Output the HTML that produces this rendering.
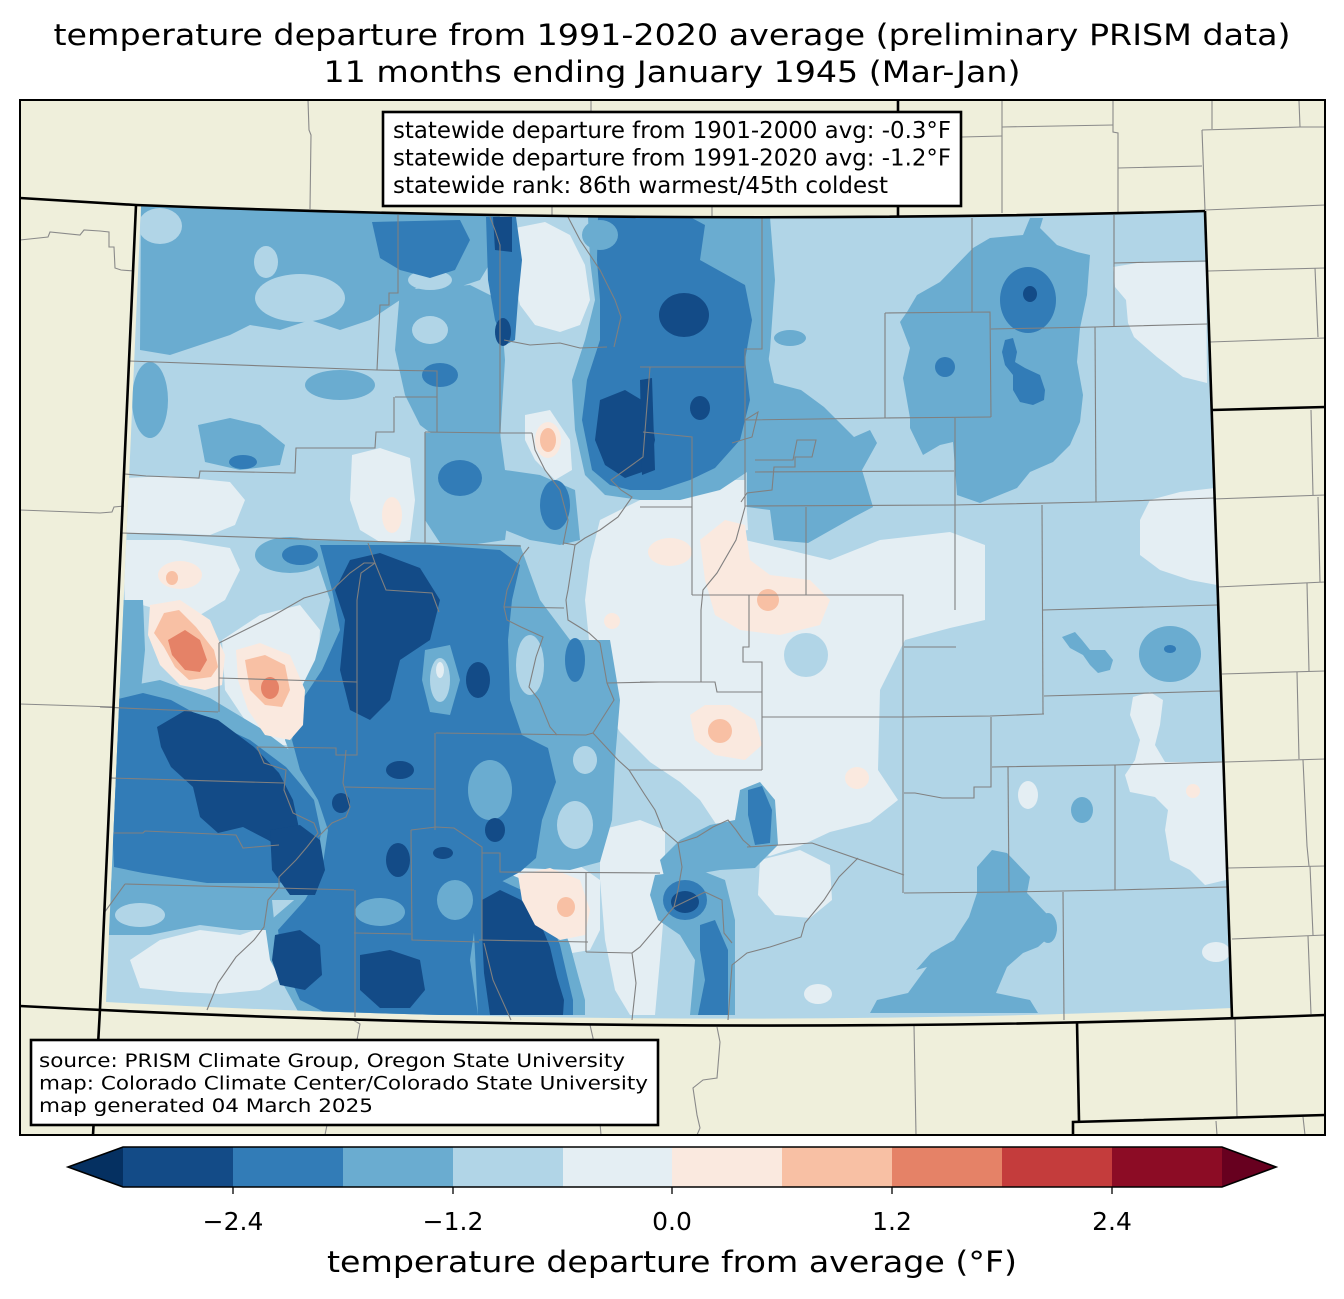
<!DOCTYPE html>
<html><head><meta charset="utf-8"><style>
html,body{margin:0;padding:0;background:#fff;}
svg{display:block;}
text{font-family:"DejaVu Sans","Liberation Sans",sans-serif;fill:#000;}
</style></head><body>
<svg width="1344" height="1299" viewBox="0 0 1344 1299" xmlns="http://www.w3.org/2000/svg">
<defs>
<clipPath id="frame"><rect x="20" y="100" width="1305" height="1035"/></clipPath>
<clipPath id="co"><path d="M141,206 Q672,226 1205,211 L1232,1008 Q672,1032 106,1002 Z"/></clipPath>
</defs>
<rect width="1344" height="1299" fill="#fff"/>
<text x="672" y="45" font-size="29" text-anchor="middle" textLength="1237" lengthAdjust="spacingAndGlyphs">temperature departure from 1991-2020 average (preliminary PRISM data)</text>
<text x="672" y="82" font-size="29" text-anchor="middle" textLength="697" lengthAdjust="spacingAndGlyphs">11 months ending January 1945 (Mar-Jan)</text>

<g clip-path="url(#frame)">
<rect x="20" y="100" width="1305" height="1035" fill="#efefdb"/>
<g fill="none" stroke="#8a8a8a" stroke-width="1.1">
<polyline points="308,100 309,130 311,135 310,209"/>
<polyline points="591,100 591,112"/><polyline points="552,206 552,215"/><polyline points="712,206 712,216"/>
<polyline points="1002,100 1002,213"/><polyline points="962,137 1002,136"/><polyline points="1002,127 1113,125"/>
<polyline points="1113,101 1113,132 1118,133 1118,212"/><polyline points="1118,168 1202,166"/>
<polyline points="1202,130 1300,127 1325,127"/><polyline points="1202,130 1205,210"/>
<polyline points="1212,101 1212,129"/><polyline points="1299,101 1300,127"/>
<polyline points="1205,210 1325,205"/><polyline points="1208,271 1325,268"/><polyline points="1315,268 1318,337"/>
<polyline points="1210,342 1325,338"/>
<polyline points="1213,499 1325,495"/><polyline points="1311,410 1313,495"/><polyline points="1217,587 1325,582"/>
<polyline points="1318,497 1320,582"/><polyline points="1307,583 1309,671"/><polyline points="1222,674 1325,671"/>
<polyline points="1297,672 1299,759"/><polyline points="1225,762 1325,759"/><polyline points="1303,760 1307,846 1309,866"/>
<polyline points="1228,868 1325,866"/><polyline points="1310,866 1313,935"/><polyline points="1232,939 1325,935"/>
<polyline points="1308,936 1311,1014"/>
<polyline points="1235,1018 1237,1117"/><polyline points="1216,1121 1217,1135"/><polyline points="1303,1117 1305,1135"/>
<polyline points="914,1025 916,1135"/>
<polyline points="717,1027 720,1042 717,1078 703,1080 693,1088 697,1115 700,1128 697,1135"/>
<polyline points="590,1025 593,1038 601,1135"/>
<polyline points="353,1020 360,1024 357,1040 340,1080 330,1110 325,1135"/>
<polyline points="20,240 48,237 50,232 80,235 84,230 100,231 109,232 109,247 114,247 115,268 121,270 134,271"/>
<polyline points="20,510 100,513 112,512 114,507 124,506"/>
<polyline points="20,704 114,707"/>
</g>

<g clip-path="url(#co)">
<rect x="90" y="200" width="1160" height="840" fill="#b1d5e7"/>
<!-- very light -->
<g fill="#e4eef3">
<path d="M515,228 L545,222 L570,235 L585,265 L590,300 L580,325 L560,332 L535,325 L520,305 L512,270Z"/>
<path d="M600,520 L640,500 L690,492 L740,500 L745,540 L780,548 L830,560 L880,540 L950,532 L985,545 L985,620 L950,628 L905,640 L880,690 L878,770 L898,800 L870,822 L830,832 L800,846 L770,856 L740,850 L720,830 L700,800 L680,782 L650,762 L620,732 L600,700 L590,650 L585,600 L590,560Z"/>
<path d="M1113,267 L1137,263 L1206,262 L1207,383 L1183,377 L1157,357 L1134,337 L1128,323 L1126,300 L1115,287Z"/>
<path d="M1150,500 L1180,492 L1215,488 L1217,585 L1190,580 L1160,570 L1140,555 L1140,520Z"/>
<path d="M1133,697 L1150,692 L1163,700 L1160,725 L1155,745 L1165,762 L1224,762 L1226,880 L1205,885 L1190,870 L1170,860 L1165,830 L1168,810 L1155,797 L1130,792 L1125,775 L1135,760 L1140,740 L1130,715Z"/>
<ellipse cx="1216" cy="952" rx="14" ry="10"/>
<path d="M130,960 L160,940 L200,930 L240,935 L270,925 L295,945 L285,975 L260,990 L220,994 L180,992 L140,988Z"/>
<path d="M125,478 L170,476 L230,482 L245,500 L235,525 L210,535 L160,533 L125,533Z"/>
<path d="M122,540 L180,540 L230,548 L240,570 L225,600 L200,615 L160,610 L125,600Z"/>
<path d="M222,640 L260,615 L300,605 L320,630 L318,680 L310,720 L295,745 L270,745 L245,720 L225,690Z"/>
<path d="M505,870 L540,862 L580,866 L600,880 L600,930 L590,950 L560,955 L530,940 L515,910Z"/>
<path d="M600,830 L640,820 L665,830 L665,900 L660,960 L655,1015 L630,1015 L615,990 L605,940 L600,880Z"/>
<path d="M760,860 L800,850 L830,865 L832,900 L810,918 L775,915 L758,895Z"/>
<ellipse cx="818" cy="994" rx="14" ry="10"/>
<path d="M352,455 L380,448 L410,458 L415,500 L410,540 L385,545 L360,530 L350,500Z"/>
<path d="M525,415 L550,410 L570,440 L572,470 L555,480 L535,460 L525,440Z"/>
<ellipse cx="1028" cy="795" rx="10" ry="14"/>
<path d="M690,480 L745,480 L748,530 L720,535 L695,525Z"/>
</g>
<g fill="#b1d5e7">
<ellipse cx="806" cy="655" rx="22" ry="22"/>
</g>
<!-- medium -->
<g fill="#6aacd0">
<path d="M141,206 L500,214 L498,250 L480,280 L450,290 L420,285 L400,300 L370,320 L340,330 L310,320 L280,330 L250,325 L230,335 L200,345 L170,355 L140,350Z"/>
<path d="M400,290 L470,285 L500,300 L505,360 L500,440 L470,445 L440,440 L420,425 L405,395 L395,350Z"/>
<path d="M425,433 L500,433 L505,470 L510,500 L505,540 L470,545 L440,543 L425,520Z"/>
<ellipse cx="150" cy="400" rx="18" ry="38"/>
<path d="M198,425 L230,418 L260,425 L285,445 L280,465 L240,470 L205,462Z"/>
<ellipse cx="340" cy="385" rx="35" ry="15"/>
<ellipse cx="290" cy="555" rx="35" ry="18"/>
<path d="M505,470 L540,475 L575,490 L580,540 L560,545 L530,540 L505,530Z"/>
<path d="M588,217 L770,217 L775,280 L770,350 L760,420 L750,470 L720,490 L680,500 L640,500 L605,495 L585,475 L575,430 L572,380 L585,340 L595,300 L590,260Z"/>
<path d="M957,495 L980,503 L1017,488 L1030,472 L1053,462 L1070,445 L1080,422 L1083,395 L1077,362 L1080,328 L1087,295 L1090,255 L1077,252 L1057,245 L1040,228 L1043,218 L1030,218 L1023,235 L990,238 L973,248 L940,282 L917,295 L907,312 L900,322 L910,348 L903,378 L910,418 L910,428 L923,455 L940,445 L953,442Z"/>
<path d="M747,350 L766,347 L774,383 L801,390 L824,407 L854,437 L870,430 L877,443 L862,470 L873,507 L854,517 L808,543 L774,540 L770,510 L747,507Z"/>
<ellipse cx="790" cy="338" rx="16" ry="8"/>
<ellipse cx="1170" cy="654" rx="31" ry="28"/>
<path d="M1062,637 L1075,632 L1082,640 L1090,650 L1105,650 L1113,660 L1110,670 L1098,673 L1090,665 L1083,655 L1070,648Z"/>
<ellipse cx="1082" cy="810" rx="11" ry="13"/>
<ellipse cx="1048" cy="928" rx="9" ry="15"/>
<path d="M977,867 L992,850 L1007,853 L1030,877 L1027,893 L1046,913 L1057,930 L1038,947 L1023,953 L1007,967 L996,993 L1030,1000 L1038,1013 L870,1013 L877,1000 L908,993 L927,967 L916,970 L931,953 L954,940 L969,917 L977,893Z"/>
<path d="M111,600 L143,600 L145,650 L140,700 L111,700Z"/>
<path d="M108,690 L160,680 L210,698 L260,728 L300,758 L330,800 L342,840 L332,880 L300,900 L250,900 L200,905 L150,900 L108,900Z"/>
<path d="M105,880 L180,885 L271,890 L275,930 L240,930 L200,925 L150,935 L105,935Z"/>
<path d="M310,540 L520,545 L540,600 L570,640 L610,640 L620,700 L615,760 L612,820 L600,862 L570,870 L520,868 L495,880 L470,905 L465,960 L470,1015 L300,1015 L270,960 L265,925 L300,895 L325,860 L325,820 L300,780 L285,740 L295,700 L315,660 L330,600Z"/>
<path d="M468,890 L500,870 L535,885 L556,910 L570,945 L578,975 L585,1000 L585,1015 L470,1015 L466,973 L465,933Z"/>
<path d="M740,790 L760,782 L775,800 L778,845 L755,868 L720,870 L690,875 L665,880 L660,860 L680,840 L710,825 L735,820Z"/>
<path d="M655,875 L700,870 L725,880 L735,920 L735,1015 L690,1015 L695,960 L680,935 L658,920 L650,895Z"/>
</g>
<!-- light patches over medium -->
<g fill="#b1d5e7">
<ellipse cx="300" cy="298" rx="45" ry="24"/>
<ellipse cx="160" cy="226" rx="22" ry="18"/>
<ellipse cx="430" cy="280" rx="22" ry="10"/>
<ellipse cx="266" cy="262" rx="12" ry="16"/>
<ellipse cx="140" cy="915" rx="25" ry="12"/>
<ellipse cx="430" cy="330" rx="18" ry="14"/>
<ellipse cx="530" cy="665" rx="14" ry="30"/>
<ellipse cx="575" cy="825" rx="18" ry="24"/>
<ellipse cx="585" cy="760" rx="12" ry="14"/>
</g>
<!-- dark -->
<g fill="#327cb7">
<path d="M372,222 L460,220 L470,240 L455,270 L430,278 L400,270 L380,258Z"/>
<path d="M486,217 L516,217 L522,260 L518,300 L515,340 L505,345 L495,320 L488,280Z"/>
<ellipse cx="440" cy="375" rx="18" ry="12"/>
<ellipse cx="460" cy="478" rx="22" ry="18"/>
<ellipse cx="243" cy="462" rx="14" ry="7"/>
<ellipse cx="300" cy="555" rx="18" ry="10"/>
<ellipse cx="555" cy="505" rx="15" ry="25"/>
<path d="M598,217 L690,217 L705,225 L700,260 L745,285 L752,320 L745,360 L750,400 L740,440 L715,468 L690,480 L660,490 L630,490 L610,485 L592,470 L582,420 L587,380 L600,340 L600,300 L597,260Z"/>
<path d="M320,545 L370,545 L430,545 L500,550 L520,565 L512,600 L508,640 L510,700 L522,735 L548,748 L556,782 L542,820 L536,858 L520,872 L495,885 L478,905 L470,960 L478,1015 L330,1015 L300,1000 L282,960 L278,930 L305,900 L322,870 L328,830 L318,800 L300,770 L292,740 L302,700 L322,670 L340,630 L332,590Z"/>
<path d="M114,700 L143,693 L171,700 L207,720 L250,740 L286,767 L314,800 L321,833 L314,873 L279,883 L207,883 L143,873 L114,867 L111,800Z"/>
<path d="M475,895 L500,880 L528,893 L548,915 L560,945 L567,975 L573,1000 L573,1015 L478,1015 L476,973 L474,933Z"/>
<path d="M748,790 L762,786 L772,810 L770,843 L755,845 L748,815Z"/>
<path d="M700,925 L715,920 L728,950 L728,1015 L698,1015 L705,980 L700,950Z"/>
<ellipse cx="685" cy="900" rx="22" ry="20"/>
<ellipse cx="1028" cy="300" rx="28" ry="33"/>
<ellipse cx="945" cy="367" rx="10" ry="10"/>
<path d="M1005,340 L1013,338 L1017,352 L1015,362 L1025,368 L1040,375 L1045,390 L1044,400 L1033,405 L1020,402 L1013,390 L1013,375 L1005,365 L1002,352Z"/>
<ellipse cx="1170" cy="649" rx="6" ry="4"/>
<ellipse cx="575" cy="660" rx="10" ry="22"/>
</g>
<!-- medium / light patches over dark -->
<g fill="#6aacd0">
<ellipse cx="490" cy="790" rx="22" ry="30"/>
<ellipse cx="600" cy="235" rx="18" ry="15"/>
<ellipse cx="455" cy="900" rx="18" ry="20"/>
<ellipse cx="380" cy="912" rx="25" ry="14"/>
<ellipse cx="235" cy="900" rx="30" ry="8"/>
<path d="M425,650 L450,645 L460,680 L450,715 L430,712 L422,680Z"/>
</g>
<g fill="#b1d5e7">
<ellipse cx="440" cy="680" rx="10" ry="22"/>
</g>
<g fill="#e4eef3">
<ellipse cx="440" cy="670" rx="4" ry="8"/>
</g>
<!-- darkest -->
<g fill="#134b87">
<path d="M350,560 L380,553 L420,568 L440,600 L430,640 L400,660 L390,700 L370,720 L350,710 L340,670 L345,620 L335,590Z"/>
<path d="M157,727 L186,710 L218,720 L254,747 L279,773 L293,800 L300,833 L289,853 L268,840 L243,827 L218,833 L200,817 L193,787 L171,767 L161,747Z"/>
<path d="M270,830 L300,825 L320,840 L325,870 L315,895 L290,895 L272,870Z"/>
<path d="M275,935 L300,930 L320,945 L322,975 L305,990 L280,985 L272,960Z"/>
<path d="M360,955 L390,950 L420,960 L425,990 L410,1008 L380,1008 L360,990Z"/>
<path d="M482,900 L500,890 L521,900 L539,920 L550,947 L557,977 L564,1000 L563,1015 L490,1015 L484,973 L482,933Z"/>
<ellipse cx="398" cy="860" rx="12" ry="17"/>
<ellipse cx="443" cy="853" rx="10" ry="6"/>
<ellipse cx="341" cy="803" rx="9" ry="10"/>
<ellipse cx="400" cy="770" rx="14" ry="9"/>
<ellipse cx="478" cy="680" rx="12" ry="18"/>
<ellipse cx="495" cy="830" rx="10" ry="12"/>
<path d="M600,400 L625,390 L650,405 L655,440 L648,470 L625,478 L605,465 L595,440Z"/>
<ellipse cx="684" cy="315" rx="25" ry="22"/>
<ellipse cx="700" cy="408" rx="10" ry="12"/>
<path d="M640,380 L652,378 L655,470 L642,475Z"/>
<path d="M493,217 L512,217 L512,252 L495,250Z"/>
<ellipse cx="503" cy="332" rx="8" ry="14"/>
<ellipse cx="1030" cy="294" rx="7" ry="8"/>
<ellipse cx="685" cy="902" rx="14" ry="11"/>
</g>
<!-- warm -->
<g fill="#fae9df">
<path d="M150,605 L180,600 L210,620 L225,655 L222,685 L205,690 L180,685 L160,665 L148,635Z"/>
<path d="M236,650 L260,643 L290,655 L305,690 L303,725 L290,740 L265,735 L248,710 L238,680Z"/>
<ellipse cx="180" cy="575" rx="22" ry="14"/>
<path d="M518,875 L550,868 L580,880 L590,910 L585,935 L560,940 L535,925 L522,900Z"/>
<path d="M700,540 L725,520 L745,525 L750,560 L770,575 L810,580 L830,600 L820,625 L780,635 L740,630 L715,615 L705,580Z"/>
<ellipse cx="670" cy="552" rx="22" ry="14"/>
<path d="M690,715 L705,705 L730,705 L755,720 L762,745 L745,760 L715,755 L695,740Z"/>
<ellipse cx="857" cy="778" rx="12" ry="11"/>
<ellipse cx="1193" cy="791" rx="7" ry="7"/>
<ellipse cx="548" cy="440" rx="13" ry="18"/>
<ellipse cx="392" cy="515" rx="10" ry="18"/>
<ellipse cx="612" cy="621" rx="8" ry="8"/>
</g>
<g fill="#f8c0a4">
<path d="M154,633 L164,613 L179,610 L196,627 L214,650 L218,667 L211,677 L189,680 L175,667 L164,647Z"/>
<path d="M245,660 L265,655 L285,665 L290,690 L282,707 L265,705 L250,690Z"/>
<ellipse cx="172" cy="578" rx="6" ry="7"/>
<ellipse cx="566" cy="907" rx="9" ry="10"/>
<ellipse cx="768" cy="600" rx="11" ry="11"/>
<ellipse cx="720" cy="731" rx="12" ry="12"/>
<ellipse cx="548" cy="440" rx="8" ry="12"/>
</g>
<g fill="#e58267">
<path d="M168,640 L185,630 L200,640 L207,660 L200,672 L185,670 L172,655Z"/>
<ellipse cx="270" cy="688" rx="9" ry="11"/>
</g>
</g>

<!-- county lines -->
<g fill="none" stroke="#808080" stroke-width="1.1">
<polyline points="398,215 398,293 389,293 389,305 380,305 377,370"/>
<polyline points="129,361 377,370 437,371 437,432"/>
<polyline points="425,432 502,433 532,433"/>
<polyline points="490,217 495,230 500,245 500,433"/>
<polyline points="395,397 437,397"/>
<polyline points="394,397 394,432 376,432 375,448 296,448 295,473 200,471 199,478 146,476 125,474"/>
<polyline points="425,432 425,543"/>
<polyline points="121,533 423,543 521,546"/>
<polyline points="532,433 535,450 545,470 560,490 568,520 563,545"/>
<polyline points="568,217 580,240 600,270 615,300 621,317 614,347"/>
<polyline points="504,340 530,345 560,343 580,348 607,347"/>
<polyline points="650,367 643,457 611,480 621,490 632,497 618,517 600,530 585,538 575,545"/>
<polyline points="564,543 575,545 568,590 566,600 568,620 589,633 600,643 607,683 614,700 593,733 618,760 629,770 645,795 655,810 663,830 678,843 697,837 713,827 728,820 736,830 743,840 751,847"/>
<polyline points="745,507 736,540 717,573 703,590 701,610 701,682"/>
<polyline points="762,218 762,349 745,349 745,507"/>
<polyline points="640,367 745,367"/>
<polyline points="643,432 692,437 692,595"/>
<polyline points="745,420 885,418 991,417"/>
<polyline points="885,313 885,418"/><polyline points="885,313 990,312 991,417"/>
<polyline points="972,218 972,312"/>
<polyline points="991,329 1095,327 1207,324"/>
<polyline points="1114,215 1114,327"/><polyline points="1114,263 1206,261"/>
<polyline points="1095,327 1096,502"/>
<polyline points="955,418 955,610"/><polyline points="755,472 954,471"/>
<polyline points="745,506 955,505 1097,502 1214,498"/>
<polyline points="1042,505 1043,714"/>
<polyline points="806,507 806,595"/><polyline points="692,595 903,595 903,893"/>
<polyline points="640,507 692,507"/>
<polyline points="1043,610 1217,605"/><polyline points="1044,696 1220,691"/>
<polyline points="749,595 749,647 743,647 743,662 762,662 762,770"/>
<polyline points="640,682 715,682 717,692 762,692"/>
<polyline points="629,770 762,770"/>
<polyline points="762,717 904,717 990,716 1044,714"/>
<polyline points="904,647 956,647"/>
<polyline points="991,717 991,787 974,787 974,798 942,798 915,793 904,793"/>
<polyline points="992,767 1115,765 1222,762"/>
<polyline points="1008,767 1009,892"/><polyline points="1115,765 1115,890"/>
<polyline points="904,893 1009,892 1115,890 1227,887"/>
<polyline points="1063,892 1064,1020"/>
<polyline points="747,847 812,843 904,875"/>
<polyline points="858,858 839,877 824,900 805,923 801,937 770,947 747,953 732,965 728,1020"/>
<polyline points="678,843 682,867 678,890 674,907 640,947 632,953"/>
<polyline points="674,907 705,892 722,900 724,933 732,943"/>
<polyline points="482,853 500,853 500,872 660,873"/>
<polyline points="586,873 586,952"/><polyline points="479,940 588,942"/>
<polyline points="586,952 632,953 636,983 632,1020"/>
<polyline points="484,943 493,980 511,1020"/>
<polyline points="411,830 412,940 479,942"/>
<polyline points="411,830 436,827 454,828 482,847 482,940"/>
<polyline points="354,933 411,934"/><polyline points="355,890 355,1017"/>
<polyline points="345,787 434,789"/><polyline points="435,733 435,830"/>
<polyline points="436,733 586,735 593,733"/>
<polyline points="346,750 343,783 350,807 346,817 332,823 318,837"/>
<polyline points="100,707 218,712"/><polyline points="219,643 219,712"/>
<polyline points="219,643 271,617 304,598 332,590 350,573 364,563 375,563"/>
<polyline points="368,543 375,563 361,573 357,600 357,755 336,755 336,748 257,747 264,763 286,770 284,790 293,813 314,823 318,833 307,847 296,860 279,877 279,887 268,900 264,927 254,940 236,957 218,983 207,1010"/>
<polyline points="219,678 357,682"/>
<polyline points="111,778 284,783"/>
<polyline points="114,833 143,833 145,831 236,835 243,848 279,845"/>
<polyline points="125,884 354,890"/><polyline points="125,884 104,913"/>
<polyline points="375,563 386,590 432,593 439,612"/>
<polyline points="529,547 521,557 507,590 504,607 507,620 521,627 543,637 536,657 529,687 539,700 550,727 557,735"/>
<polyline points="504,607 564,608"/>
<polyline points="607,683 660,682"/>
<polyline points="745,420 758,412 752,437 732,443"/>
<polyline points="755,460 793,460 797,440 816,440 812,457 795,457 795,467 774,467 772,490 747,493 741,502"/>
</g>

<!-- black borders -->
<g fill="none" stroke="#000" stroke-width="2.6">
<path d="M20,198 L136,205 Q672,226 1205,211"/>
<path d="M1205,211 L1232,1017"/>
<path d="M1212,410 L1325,407"/>
<path d="M20,1006 Q672,1040 1325,1015"/>
<path d="M136,205 L100,1009 L93,1135"/>
<path d="M1077,1022 L1079,1121"/>
<path d="M1073,1135 L1073,1122 L1325,1115"/>
<path d="M898,100 L898,112"/><path d="M898,206 L898,216"/>
</g>
</g>
<rect x="20" y="100" width="1305" height="1035" fill="none" stroke="#000" stroke-width="2"/>

<!-- stats box -->
<rect x="383" y="112" width="578" height="94" fill="#fff" stroke="#000" stroke-width="2.6"/>
<text x="393" y="138" font-size="23" textLength="558" lengthAdjust="spacingAndGlyphs">statewide departure from 1901-2000 avg: -0.3°F</text>
<text x="393" y="165.5" font-size="23" textLength="558" lengthAdjust="spacingAndGlyphs">statewide departure from 1991-2020 avg: -1.2°F</text>
<text x="393" y="193" font-size="23" textLength="495" lengthAdjust="spacingAndGlyphs">statewide rank: 86th warmest/45th coldest</text>

<!-- source box -->
<rect x="31" y="1040" width="627" height="85" fill="#fff" stroke="#000" stroke-width="2.6"/>
<text x="39" y="1067" font-size="19" textLength="586" lengthAdjust="spacingAndGlyphs">source: PRISM Climate Group, Oregon State University</text>
<text x="39" y="1089.5" font-size="19" textLength="609" lengthAdjust="spacingAndGlyphs">map: Colorado Climate Center/Colorado State University</text>
<text x="39" y="1112" font-size="19" textLength="334" lengthAdjust="spacingAndGlyphs">map generated 04 March 2025</text>

<!-- colorbar -->
<polygon points="68,1167 123,1147 123,1187" fill="#053061"/>
<rect x="123" y="1147" width="110" height="40" fill="#134b87"/>
<rect x="233" y="1147" width="110" height="40" fill="#327cb7"/>
<rect x="343" y="1147" width="110" height="40" fill="#6aacd0"/>
<rect x="453" y="1147" width="110" height="40" fill="#b1d5e7"/>
<rect x="563" y="1147" width="109" height="40" fill="#e4eef3"/>
<rect x="672" y="1147" width="110" height="40" fill="#fae9df"/>
<rect x="782" y="1147" width="110" height="40" fill="#f8c0a4"/>
<rect x="892" y="1147" width="110" height="40" fill="#e58267"/>
<rect x="1002" y="1147" width="110" height="40" fill="#c43c3c"/>
<rect x="1112" y="1147" width="110" height="40" fill="#8c0c25"/>
<polygon points="1222,1147 1276,1167 1222,1187" fill="#67001f"/>
<polygon points="68,1167 123,1147 1222,1147 1276,1167 1222,1187 123,1187" fill="none" stroke="#000" stroke-width="1.6"/>
<g stroke="#000" stroke-width="1.3">
<line x1="233" y1="1187" x2="233" y2="1194"/>
<line x1="453" y1="1187" x2="453" y2="1194"/>
<line x1="672" y1="1187" x2="672" y2="1194"/>
<line x1="892" y1="1187" x2="892" y2="1194"/>
<line x1="1112" y1="1187" x2="1112" y2="1194"/>
</g>
<g font-size="25" text-anchor="middle">
<text x="233" y="1230">−2.4</text>
<text x="453" y="1230">−1.2</text>
<text x="672" y="1230">0.0</text>
<text x="892" y="1230">1.2</text>
<text x="1112" y="1230">2.4</text>
</g>
<text x="672" y="1272" font-size="29" text-anchor="middle" textLength="690" lengthAdjust="spacingAndGlyphs">temperature departure from average (°F)</text>
</svg>
</body></html>
